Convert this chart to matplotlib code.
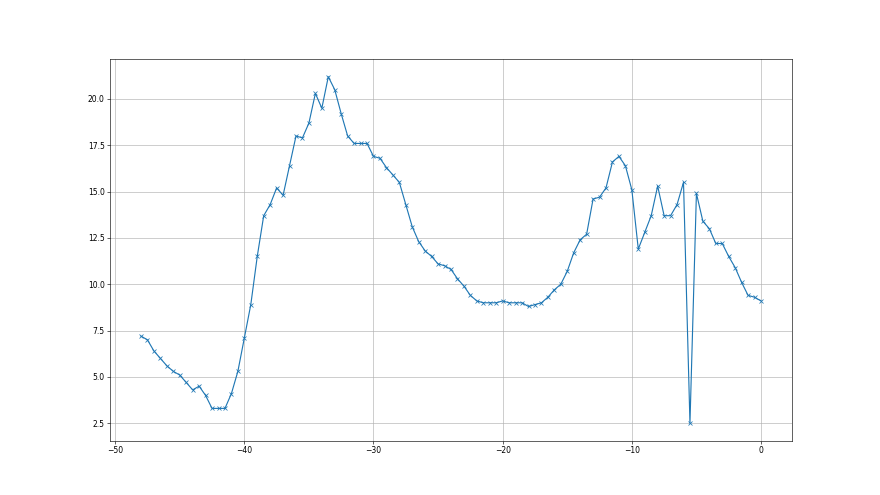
import numpy as np
import matplotlib.pyplot as plt

# x positions: -48 .. 0 in steps of 0.5
x = np.arange(-48, 0.01, 0.5)

y = [7.2, 7.0, 6.4, 6.0, 5.6, 5.3, 5.1, 4.7, 4.3, 4.5,
     4.0, 3.3, 3.3, 3.3, 4.1, 5.3, 7.1, 8.9, 11.5, 13.7,
     14.3, 15.2, 14.8, 16.4, 18.0, 17.9, 18.7, 20.3, 19.5, 21.2,
     20.5, 19.2, 18.0, 17.6, 17.6, 17.6, 16.9, 16.8, 16.3, 15.9,
     15.5, 14.3, 13.1, 12.3, 11.8, 11.5, 11.1, 11.0, 10.8, 10.3,
     9.9, 9.4, 9.1, 9.0, 9.0, 9.0, 9.1, 9.0, 9.0, 9.0,
     8.8, 8.9, 9.0, 9.3, 9.7, 10.0, 10.7, 11.7, 12.4, 12.7,
     14.6, 14.7, 15.2, 16.6, 16.9, 16.4, 15.1, 11.9, 12.8, 13.7,
     15.3, 13.7, 13.7, 14.3, 15.5, 2.5, 14.9, 13.4, 13.0, 12.2,
     12.2, 11.5, 10.9, 10.1, 9.4, 9.3, 9.1]

fig, ax = plt.subplots(figsize=(16, 9), dpi=55)
ax.plot(x, y, marker='x')
ax.grid(True)

plt.savefig('out.png')
